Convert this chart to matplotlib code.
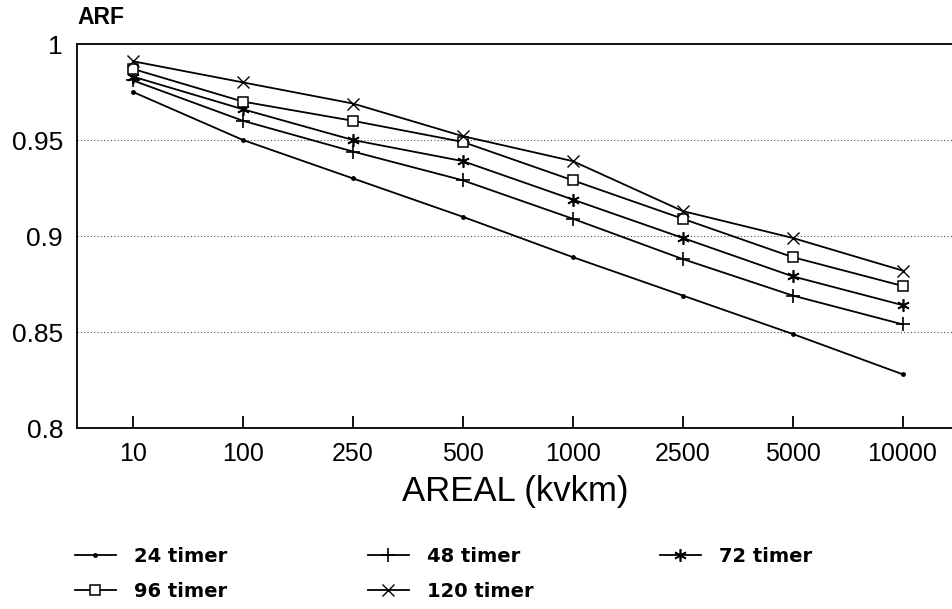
import matplotlib
matplotlib.use("Agg")
import matplotlib.pyplot as plt
import numpy as np

categories = ["10", "100", "250", "500", "1000", "2500", "5000", "10000"]
arf_24 = [0.975, 0.950, 0.930, 0.910, 0.889, 0.869, 0.849, 0.828]
arf_48 = [0.981, 0.960, 0.944, 0.929, 0.909, 0.888, 0.869, 0.854]
arf_72 = [0.983, 0.966, 0.950, 0.939, 0.919, 0.899, 0.879, 0.864]
arf_96 = [0.987, 0.970, 0.960, 0.949, 0.929, 0.909, 0.889, 0.874]
arf_120 = [0.991, 0.980, 0.969, 0.952, 0.939, 0.913, 0.899, 0.882]
series_labels = ["24 timer", "48 timer", "72 timer", "96 timer", "120 timer"]
y_ticks = [0.8, 0.85, 0.9, 0.95, 1.0]
y_tick_labels = ["0.8", "0.85", "0.9", "0.95", "1"]

plt.rcParams['font.family'] = ['Liberation Sans', 'DejaVu Sans']

fig = plt.figure(figsize=(9.52, 6.09), dpi=100)
ax = fig.add_axes([77/952, 1 - 428/609, 1 - 77/952, (428 - 44)/609])

x = np.arange(len(categories))
styles = [
    dict(marker='o', markersize=2.5, mfc='black'),
    dict(marker='+', markersize=10, mew=1.2),
    dict(marker=(6, 2, 0), markersize=9, mew=1.2),
    dict(marker='s', markersize=7, mfc='white', mew=1.1),
    dict(marker='x', markersize=8, mew=1.0),
]
lines = []
for vals, lab, st in zip([arf_24, arf_48, arf_72, arf_96, arf_120], series_labels, styles):
    ln, = ax.plot(x, vals, color='black', lw=1.3, label=lab, **st)
    lines.append(ln)

ax.set_xlim(-0.51, 7.45)
ax.set_ylim(0.8, 1.0)
ax.set_yticks(y_ticks)
ax.set_yticklabels(y_tick_labels)
ax.set_xticks(x)
ax.set_xticklabels(categories)
for yv in y_ticks[1:-1]:
    ax.axhline(yv, color='#555555', lw=0.8, ls=(0, (1, 2)), zorder=0)

ax.spines['right'].set_visible(False)
for s in ['left', 'bottom', 'top']:
    ax.spines[s].set_linewidth(1.3)
ax.tick_params(axis='x', direction='in', length=9, width=1.3, pad=10, labelsize=18)
ax.tick_params(axis='y', length=0, pad=10, labelsize=19)

fig.text(515/952, 1 - 491/609, "AREAL (kvkm)", ha='center', va='center', fontsize=25)
fig.text(77/952, 1 - 18/609, "ARF", ha='left', va='center', fontsize=16.5, fontweight='bold')

col_x = [75/952, 368/952, 660/952]
cols = [[lines[0], lines[3]], [lines[1], lines[4]], [lines[2]]]
for cx, hs in zip(col_x, cols):
    leg = fig.legend(handles=hs, labels=[h.get_label() for h in hs],
                     loc='upper left', bbox_to_anchor=(cx, 1 - 547/609),
                     frameon=False, handlelength=2.1, handletextpad=0.93,
                     labelspacing=0.82, borderaxespad=0, borderpad=0,
                     prop=dict(family='DejaVu Sans', weight='bold', size=14))

fig.savefig("out.png", dpi=100)
